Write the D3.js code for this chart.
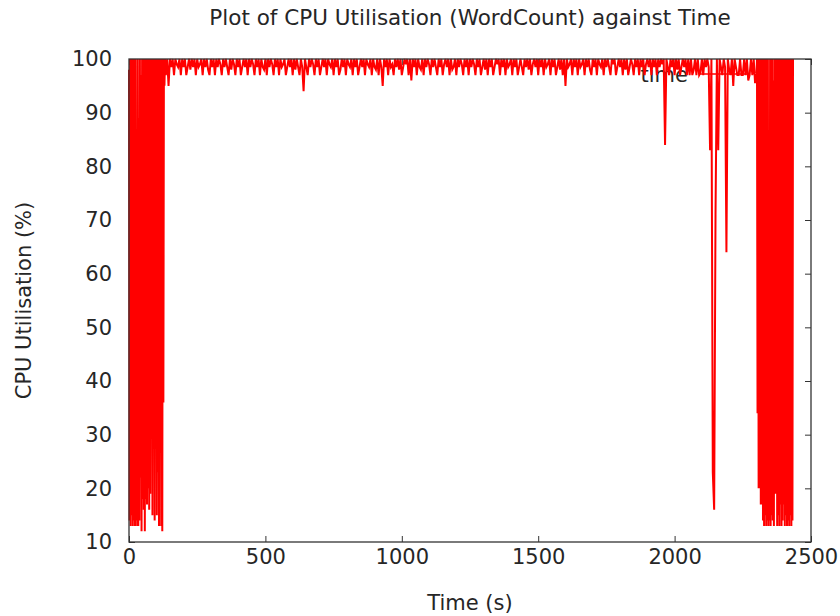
<!DOCTYPE html>
<html>
<head>
<meta charset="utf-8">
<script src="https://cdnjs.cloudflare.com/ajax/libs/d3/7.8.5/d3.min.js"></script>
<style>
body { margin: 0; background: #fff; }
svg text { font-family: "DejaVu Sans", sans-serif; fill: #262626; }
.axis line { stroke: #333; }
.axis path { display: none; }
</style>
</head>
<body>
<svg width="840" height="616"></svg>
<script>
// CPU samples, in three phases with their own sampling steps (seconds)
var rampUpStart = 0, rampUpStep = 2
var rampUpCpu = [
	98, 14, 100, 13, 100, 15, 100, 13, 100, 14, 100, 13, 100, 14, 78, 13, 100, 13, 89, 14,
	100, 22, 97, 12, 100, 18, 100, 16, 100, 12, 100, 18, 100, 17, 100, 20, 100, 16, 100, 19,
	100, 41, 100, 15, 100, 65, 100, 14, 100, 76, 100, 15, 100, 23, 100, 13, 100, 36, 100, 13,
	100, 12, 100, 36, 100, 95, 100
]

var steadyStart = 135, steadyStep = 5
var steadyCpu = [
	97,100,95,100,98.5,100,97,100,99,98.5,100,97,100,98.5,100,97,98.5,100,98,100,
	98.5,100,97,100,98.5,99,100,97,100,98.5,100,98,97,100,98.5,100,97,100,98.5,100,
	99,97,100,98.5,100,98.5,97,100,98,100,99,97,100,98.5,100,97,98.5,100,98.5,100,
	97,100,98.5,100,99,97,100,98.5,100,97,100,98.5,98,100,97,100,98.5,100,99,97,
	100,98.5,100,97,100,98.5,99,100,97,98.5,100,98.5,100,97,100,98,100,98.5,97,100,
	98.5,94,100,98.5,97,100,98.5,100,99,97,100,98.5,100,97,98.5,100,98.5,100,97,100,
	99,98.5,100,97,100,98.5,100,97,98,100,98.5,100,97,100,99,98.5,100,97,100,98.5,
	100,97,98.5,100,98.5,100,97,100,99,98.5,100,97,100,98.5,98,100,97,100,98.5,95,
	100,98.5,100,97,100,98.5,99,97,100,98.5,100,98,100,97,98.5,100,99,100,97,100,
	96,100,98.5,100,97,100,98.5,98,100,97,100,98.5,100,99,97,100,98.5,100,98.5,97,
	100,98.5,100,97,99,100,98.5,100,97,100,98,98.5,100,97,100,98.5,100,99,97,100,
	98.5,100,97,100,98.5,100,99,97,100,98.5,100,97,98.5,100,98,100,97,100,98.5,100,
	97,98.5,100,99,100,97,100,98.5,100,97,100,98.5,99,100,97,100,98.5,100,97,98.5,
	100,98.5,97,100,98.5,100,98,100,97,99,100,98.5,100,97,100,98.5,100,97,100,98.5,
	99,100,97,100,98.5,100,97,98.5,100,98,100,97,100,95,100,98.5,99,100,97,100,
	98.5,100,97,100,98.5,99,100,97,100,98.5,100,98,97,100,98.5,100,97,100,99,98.5,
	100,97,100,98.5,100,98.5,97,100,99,100,97,98.5,100,98.5,100,97,100,98,100,97,
	98.5,100,99,97,100,98.5,100,97,100,98.5,100,97,99,100,98.5,100,97,100,98.5,100,
	97,100,98.5,100,99,100,84,100,98.5,97,100,98.5,100,97,100,98,100,97,98.5,100,
	98.5,100,97,100,97,100,97,98,100,97,100,97,97.5,100,97,100,98.5,100,98.5,83,
	100,23,16,71,100,83,100,98.5,97,100,98.5,64,100,98,97,100,95,100,98.5,97,
	97,100,97,97,100,97,100,96,97,100,97,100,95.5,97
]

var rampDownStart = 2302, rampDownStep = 2
var rampDownCpu = [
	100, 34, 100, 20, 100, 20, 100, 17, 100, 17, 100, 14, 100, 13, 100, 15, 100, 13, 100, 14,
	100, 13, 81, 14, 100, 13, 100, 15, 100, 14, 96, 13, 100, 19, 100, 19, 100, 13, 100, 15,
	100, 13, 100, 17, 100, 13, 100, 14, 100, 17, 100, 13, 100, 15, 100, 13, 100, 14, 100, 13,
	100, 15, 100, 13, 100, 14, 100
]

var xTicks = [0, 500, 1000, 1500, 2000, 2500]
var yTicks = [10, 20, 30, 40, 50, 60, 70, 80, 90, 100]

var title = "Plot of CPU Utilisation (WordCount) against Time"
var xLabel = "Time (s)"
var yLabel = "CPU Utilisation (%)"
var seriesName = "time"

var svg = d3.select("svg")
var plotLeft = 129, plotRight = 811, plotTop = 59, plotBottom = 542
var fontSize = "21px"

var x = d3.scaleLinear().domain([0, 2500]).range([plotLeft, plotRight])
var y = d3.scaleLinear().domain([10, 100]).range([plotBottom, plotTop])

function toPoints(start, step, vals) {
	return vals.map(function(v, i) { return { t: start + i * step, v: v } })
}
var points = toPoints(rampUpStart, rampUpStep, rampUpCpu)
	.concat(toPoints(steadyStart, steadyStep, steadyCpu))
	.concat(toPoints(rampDownStart, rampDownStep, rampDownCpu))

// axes, ticks point inwards on all four sides (gnuplot mirror style)
svg.append("g").attr("class", "axis").attr("transform", "translate(0," + plotBottom + ")")
	.call(d3.axisBottom(x).tickValues(xTicks).tickSize(-6).tickPadding(7).tickFormat(d3.format("d")))
	.selectAll("text").style("font-size", fontSize)
svg.append("g").attr("class", "axis").attr("transform", "translate(0," + plotTop + ")")
	.call(d3.axisTop(x).tickValues(xTicks).tickSize(-6).tickFormat(""))
svg.append("g").attr("class", "axis").attr("transform", "translate(" + plotLeft + ",0)")
	.call(d3.axisLeft(y).tickValues(yTicks).tickSize(-6).tickPadding(17).tickFormat(d3.format("d")))
	.selectAll("text").style("font-size", fontSize)
svg.append("g").attr("class", "axis").attr("transform", "translate(" + plotRight + ",0)")
	.call(d3.axisRight(y).tickValues(yTicks).tickSize(-6).tickFormat(""))

// key sits under the data
svg.append("text")
	.attr("x", 688).attr("y", 82)
	.attr("text-anchor", "end")
	.style("font-size", fontSize)
	.text(seriesName)
svg.append("line")
	.attr("x1", 700).attr("x2", 750).attr("y1", 74).attr("y2", 74)
	.attr("stroke", "#ff0000").attr("stroke-width", 1.5)

svg.append("path")
	.datum(points)
	.attr("fill", "none")
	.attr("stroke", "#ff0000")
	.attr("stroke-width", 2)
	.attr("d", d3.line().x(function(d) { return x(d.t) }).y(function(d) { return y(d.v) }))

svg.append("rect")
	.attr("x", plotLeft).attr("y", plotTop)
	.attr("width", plotRight - plotLeft).attr("height", plotBottom - plotTop)
	.attr("fill", "none").attr("stroke", "#333").attr("stroke-width", 1.3)

svg.append("text")
	.attr("x", (plotLeft + plotRight) / 2).attr("y", 25)
	.attr("text-anchor", "middle")
	.style("font-size", "21.5px")
	.text(title)
svg.append("text")
	.attr("x", (plotLeft + plotRight) / 2).attr("y", 610)
	.attr("text-anchor", "middle")
	.style("font-size", fontSize)
	.text(xLabel)
svg.append("text")
	.attr("transform", "translate(31," + (plotTop + plotBottom) / 2 + ") rotate(-90)")
	.attr("text-anchor", "middle")
	.style("font-size", fontSize)
	.text(yLabel)
</script>
</body>
</html>
